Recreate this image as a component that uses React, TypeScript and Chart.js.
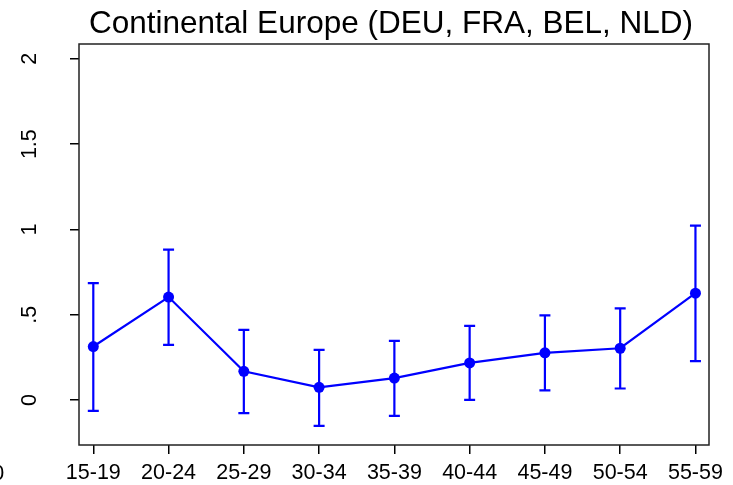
import React, { useEffect, useRef } from "react";
import { Chart, registerables } from "chart.js";

Chart.register(...registerables);

const categories = ["15-19", "20-24", "25-29", "30-34", "35-39", "40-44", "45-49", "50-54", "55-59"];
const estimates = [0.314, 0.604, 0.169, 0.075, 0.129, 0.218, 0.277, 0.304, 0.627];
const upperCI = [0.686, 0.882, 0.412, 0.294, 0.347, 0.435, 0.497, 0.538, 1.023];
const lowerCI = [-0.063, 0.324, -0.076, -0.151, -0.092, 0.002, 0.057, 0.068, 0.228];
const yTickValues = [0, 0.5, 1, 1.5, 2];
const yTickLabels = ["0", ".5", "1", "1.5", "2"];
const titleText = "Continental Europe (DEU, FRA, BEL, NLD)";
const strayLabel = "0";

const FONT = "'Liberation Sans', Arial, sans-serif";
const BLUE = "#0000ff";

const errorBarPlugin = {
  id: "errorBars",
  beforeDatasetsDraw(chart: any) {
    const { ctx, scales } = chart;
    const xs = scales.x;
    const ys = scales.y;
    ctx.save();
    ctx.strokeStyle = BLUE;
    ctx.lineWidth = 2.2;
    const cap = 5.5;
    categories.forEach((_, i) => {
      const px = xs.getPixelForValue(i);
      const top = ys.getPixelForValue(upperCI[i]);
      const bot = ys.getPixelForValue(lowerCI[i]);
      ctx.beginPath();
      ctx.moveTo(px, top);
      ctx.lineTo(px, bot);
      ctx.moveTo(px - cap, top);
      ctx.lineTo(px + cap, top);
      ctx.moveTo(px - cap, bot);
      ctx.lineTo(px + cap, bot);
      ctx.stroke();
    });
    ctx.restore();
  },
};

const framePlugin = {
  id: "frameAndTitle",
  afterDraw(chart: any) {
    const { ctx, chartArea } = chart;
    ctx.save();
    ctx.strokeStyle = "#222";
    ctx.lineWidth = 1.5;
    ctx.strokeRect(chartArea.left, chartArea.top, chartArea.right - chartArea.left, chartArea.bottom - chartArea.top);
    ctx.fillStyle = "#000";
    ctx.font = `31.5px ${FONT}`;
    ctx.textAlign = "center";
    ctx.textBaseline = "alphabetic";
    ctx.fillText(titleText, 391, 33);
    ctx.font = `21.5px ${FONT}`;
    ctx.textAlign = "right";
    ctx.fillText(strayLabel, 4.3, 480);
    ctx.restore();
  },
};

export default function App() {
  const ref = useRef<HTMLCanvasElement | null>(null);
  useEffect(() => {
    if (!ref.current) return;
    const chart = new Chart(ref.current, {
      type: "line",
      data: {
        datasets: [
          {
            data: estimates.map((v, i) => ({ x: i, y: v })),
            borderColor: BLUE,
            backgroundColor: BLUE,
            borderWidth: 2.2,
            pointRadius: 5.5,
            pointBorderWidth: 0,
            pointBackgroundColor: BLUE,
            tension: 0,
          },
        ],
      },
      options: {
        animation: false,
        responsive: false,
        devicePixelRatio: 1,
        layout: { padding: { top: 44, right: 24, left: 0, bottom: 0 } },
        plugins: {
          legend: { display: false },
          tooltip: { enabled: false },
          title: { display: false },
        },
        scales: {
          x: {
            type: "linear",
            min: -0.19,
            max: 8.18,
            afterBuildTicks: (s: any) => {
              s.ticks = categories.map((_, i) => ({ value: i }));
            },
            afterFit: (s: any) => {
              s.height = 40;
              s.paddingLeft = 0;
              s.paddingRight = 0;
            },
            ticks: {
              autoSkip: false,
              maxRotation: 0,
              minRotation: 0,
              padding: 6,
              color: "#000",
              font: { family: FONT, size: 21.5 },
              callback: (v: any) => categories[Math.round(Number(v))],
            },
            grid: { drawOnChartArea: false, tickLength: 9, color: "#000", lineWidth: 1.5 },
            border: { display: false },
          },
          y: {
            type: "linear",
            min: -0.263,
            max: 2.087,
            afterBuildTicks: (s: any) => {
              s.ticks = yTickValues.map((v) => ({ value: v }));
            },
            afterFit: (s: any) => {
              s.width = 79;
              s.paddingTop = 0;
              s.paddingBottom = 0;
            },
            ticks: {
              minRotation: 90,
              maxRotation: 90,
              crossAlign: "center",
              padding: 25,
              color: "#000",
              font: { family: FONT, size: 21.5 },
              callback: (v: any) => yTickLabels[yTickValues.indexOf(Number(v))],
            },
            grid: { drawOnChartArea: false, tickLength: 9, color: "#000", lineWidth: 1.5 },
            border: { display: false },
          },
        },
      },
      plugins: [errorBarPlugin, framePlugin],
    } as any);
    return () => chart.destroy();
  }, []);
  return (
    <div style={{ position: "absolute", left: 0, top: 0, width: 733, height: 485, background: "#fff" }}>
      <canvas ref={ref} width={733} height={485} style={{ display: "block" }} />
    </div>
  );
}
